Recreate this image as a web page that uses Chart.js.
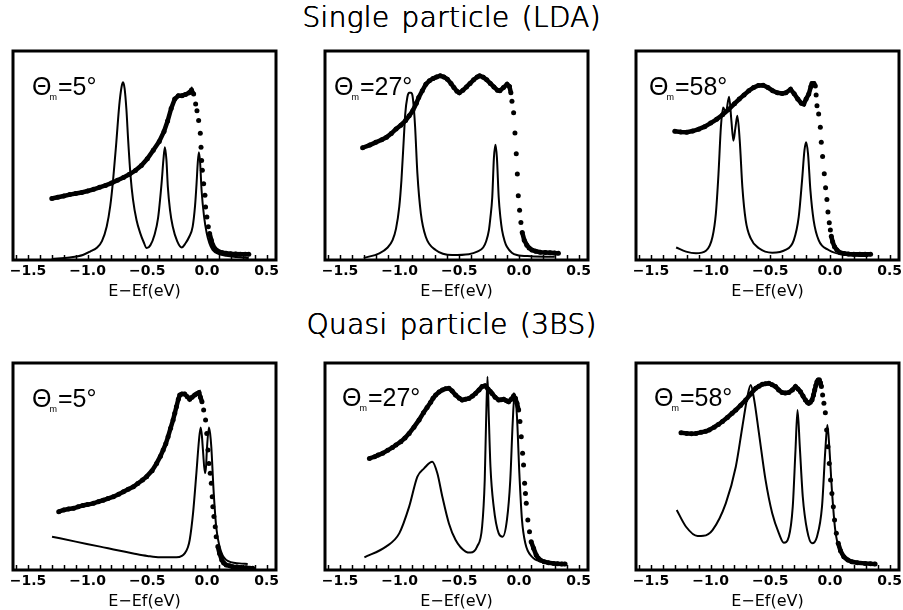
<!DOCTYPE html>
<html>
<head>
<meta charset="utf-8">
<script src="https://cdn.jsdelivr.net/npm/chart.js@4.4.1/dist/chart.umd.min.js"></script>
<style>
    body { margin: 0; background: #fff; width: 903px; height: 610px; position: relative; overflow: hidden; font-family: "Liberation Sans", Arial, sans-serif; }
    .rowtitle { position: absolute; left: 0; width: 903px; text-align: center; font-family: "DejaVu Sans", sans-serif; font-weight: 200; font-size: 28px; letter-spacing: 0.3px; word-spacing: 3px; line-height: 30px; color: #000; text-shadow: 0.5px 0 0 #000, 0 0.4px 0 #000; }
    .panel { position: absolute; }
    .lab { position: absolute; font-size: 25px; line-height: 25px; color: #000; white-space: nowrap; }
    .lab sub { font-size: 9px; vertical-align: -5px; margin-left: -2px; margin-right: 1px; }
</style>
</head>
<body>
<div id="app"></div>
<script>
// titles, angles, tick labels
const rowTitles = ['Single particle (LDA)', 'Quasi particle (3BS)'];
const angles = ['5°', '27°', '58°'];
const tickValues = [-1.5, -1.0, -0.5, 0.0, 0.5];

// measured spectra (dots) and calculated spectra (lines): [E-Ef, intensity]
const lda5Dots = [[-1.30,0.294],[-1.25,0.30],[-1.20,0.306],[-1.15,0.313],[-1.10,0.318],[-1.05,0.323],[-1.00,0.33],[-0.95,0.338],[-0.90,0.348],[-0.85,0.357],[-0.80,0.368],[-0.75,0.382],[-0.70,0.395],[-0.65,0.41],[-0.60,0.428],[-0.55,0.452],[-0.50,0.484],[-0.45,0.525],[-0.40,0.567],[-0.36,0.615],[-0.33,0.665],[-0.30,0.725],[-0.27,0.77],[-0.24,0.786],[-0.21,0.786],[-0.18,0.792],[-0.15,0.80],[-0.13,0.813],[-0.112,0.794],[-0.095,0.746],[-0.084,0.714],[-0.07,0.667],[-0.056,0.606],[-0.05,0.54],[-0.045,0.476],[-0.039,0.429],[-0.028,0.365],[-0.017,0.31],[-0.012,0.254],[-0.001,0.206],[0.011,0.159],[0.022,0.127],[0.036,0.095],[0.049,0.071],[0.065,0.055],[0.08,0.047],[0.10,0.04],[0.13,0.035],[0.16,0.032],[0.20,0.03],[0.24,0.029],[0.28,0.028],[0.32,0.027],[0.35,0.027]];
const lda5Line = [[-1.30,0.005],[-1.15,0.012],[-1.04,0.024],[-0.98,0.04],[-0.92,0.06],[-0.88,0.09],[-0.84,0.16],[-0.81,0.26],[-0.787,0.38],[-0.76,0.56],[-0.735,0.74],[-0.715,0.83],[-0.703,0.85],[-0.69,0.82],[-0.675,0.72],[-0.66,0.57],[-0.64,0.40],[-0.62,0.29],[-0.59,0.19],[-0.56,0.13],[-0.53,0.085],[-0.505,0.057],[-0.475,0.07],[-0.44,0.12],[-0.41,0.2],[-0.38,0.37],[-0.365,0.48],[-0.353,0.54],[-0.34,0.48],[-0.328,0.35],[-0.31,0.24],[-0.287,0.16],[-0.25,0.09],[-0.212,0.06],[-0.18,0.08],[-0.15,0.11],[-0.12,0.16],[-0.10,0.26],[-0.087,0.37],[-0.078,0.46],[-0.068,0.516],[-0.058,0.47],[-0.045,0.33],[-0.025,0.21],[-0.003,0.13],[0.02,0.08],[0.047,0.048],[0.10,0.028],[0.16,0.02],[0.25,0.014],[0.35,0.01]];

const lda27Dots = [[-1.31,0.537],[-1.25,0.55],[-1.20,0.563],[-1.15,0.575],[-1.11,0.587],[-1.07,0.605],[-1.03,0.627],[-0.99,0.645],[-0.95,0.667],[-0.92,0.69],[-0.89,0.714],[-0.86,0.75],[-0.84,0.778],[-0.81,0.81],[-0.78,0.841],[-0.75,0.858],[-0.72,0.868],[-0.69,0.876],[-0.66,0.881],[-0.63,0.876],[-0.60,0.865],[-0.57,0.845],[-0.545,0.825],[-0.52,0.808],[-0.50,0.80],[-0.47,0.812],[-0.44,0.828],[-0.41,0.845],[-0.38,0.862],[-0.35,0.876],[-0.33,0.881],[-0.30,0.875],[-0.27,0.862],[-0.24,0.845],[-0.21,0.828],[-0.18,0.812],[-0.16,0.81],[-0.13,0.825],[-0.10,0.841],[-0.08,0.83],[-0.068,0.80],[-0.059,0.759],[-0.045,0.705],[-0.034,0.608],[-0.023,0.508],[-0.014,0.411],[-0.006,0.308],[0.005,0.238],[0.016,0.179],[0.027,0.132],[0.044,0.095],[0.066,0.071],[0.085,0.058],[0.108,0.048],[0.14,0.042],[0.178,0.037],[0.22,0.036],[0.26,0.035],[0.30,0.033],[0.33,0.032]];
const lda27Line = [[-1.30,0.01],[-1.17,0.032],[-1.10,0.06],[-1.059,0.095],[-1.03,0.15],[-1.003,0.254],[-0.985,0.38],[-0.965,0.58],[-0.953,0.698],[-0.935,0.78],[-0.92,0.80],[-0.905,0.80],[-0.892,0.786],[-0.88,0.72],[-0.87,0.635],[-0.851,0.413],[-0.822,0.222],[-0.781,0.111],[-0.698,0.048],[-0.559,0.024],[-0.42,0.028],[-0.35,0.04],[-0.30,0.06],[-0.275,0.09],[-0.252,0.143],[-0.24,0.2],[-0.224,0.30],[-0.21,0.49],[-0.197,0.552],[-0.185,0.49],[-0.17,0.30],[-0.155,0.2],[-0.142,0.143],[-0.12,0.09],[-0.101,0.063],[-0.06,0.035],[-0.018,0.024],[0.10,0.018],[0.30,0.015]];

const lda58Dots = [[-1.30,0.616],[-1.25,0.612],[-1.20,0.611],[-1.15,0.617],[-1.10,0.626],[-1.05,0.638],[-1.00,0.655],[-0.95,0.673],[-0.90,0.695],[-0.85,0.72],[-0.80,0.748],[-0.76,0.77],[-0.72,0.79],[-0.68,0.81],[-0.64,0.825],[-0.60,0.835],[-0.56,0.836],[-0.52,0.825],[-0.48,0.81],[-0.44,0.80],[-0.40,0.797],[-0.37,0.80],[-0.33,0.817],[-0.30,0.795],[-0.27,0.77],[-0.24,0.75],[-0.22,0.746],[-0.20,0.77],[-0.178,0.794],[-0.16,0.83],[-0.151,0.844],[-0.135,0.845],[-0.123,0.833],[-0.116,0.79],[-0.109,0.738],[-0.095,0.698],[-0.081,0.635],[-0.073,0.563],[-0.062,0.495],[-0.048,0.413],[-0.037,0.346],[-0.026,0.289],[-0.017,0.23],[-0.006,0.178],[0.003,0.143],[0.011,0.114],[0.022,0.087],[0.038,0.063],[0.058,0.048],[0.086,0.035],[0.12,0.031],[0.155,0.029],[0.20,0.028],[0.25,0.027],[0.294,0.027],[0.34,0.027]];
const lda58Line = [[-1.289,0.06],[-1.206,0.04],[-1.122,0.032],[-1.039,0.044],[-0.984,0.111],[-0.956,0.222],[-0.934,0.413],[-0.914,0.635],[-0.895,0.73],[-0.873,0.706],[-0.845,0.781],[-0.826,0.667],[-0.809,0.571],[-0.792,0.635],[-0.776,0.69],[-0.756,0.571],[-0.734,0.349],[-0.706,0.19],[-0.664,0.103],[-0.595,0.056],[-0.484,0.035],[-0.373,0.048],[-0.303,0.095],[-0.262,0.206],[-0.234,0.381],[-0.214,0.524],[-0.2,0.563],[-0.184,0.508],[-0.164,0.333],[-0.137,0.19],[-0.095,0.095],[-0.012,0.048],[0.128,0.024],[0.322,0.019]];

const qp5Dots = [[-1.242,0.282],[-1.20,0.29],[-1.16,0.295],[-1.117,0.298],[-1.08,0.305],[-1.04,0.312],[-1.00,0.316],[-0.951,0.322],[-0.91,0.33],[-0.87,0.337],[-0.83,0.345],[-0.784,0.354],[-0.74,0.366],[-0.70,0.378],[-0.66,0.39],[-0.617,0.402],[-0.58,0.418],[-0.54,0.435],[-0.506,0.451],[-0.46,0.48],[-0.422,0.515],[-0.39,0.55],[-0.367,0.58],[-0.345,0.61],[-0.326,0.644],[-0.305,0.685],[-0.284,0.725],[-0.27,0.757],[-0.256,0.789],[-0.24,0.825],[-0.228,0.845],[-0.21,0.85],[-0.187,0.85],[-0.165,0.837],[-0.145,0.825],[-0.125,0.835],[-0.103,0.845],[-0.085,0.852],[-0.067,0.857],[-0.055,0.835],[-0.042,0.813],[-0.028,0.773],[-0.012,0.725],[-0.002,0.66],[0.008,0.58],[0.016,0.515],[0.027,0.467],[0.036,0.419],[0.044,0.354],[0.049,0.306],[0.058,0.258],[0.069,0.209],[0.077,0.161],[0.091,0.113],[0.105,0.08],[0.124,0.048],[0.14,0.034],[0.161,0.024],[0.19,0.02],[0.216,0.016],[0.25,0.014],[0.29,0.012],[0.328,0.011],[0.36,0.009],[0.383,0.008]];
const qp5Line = [[-1.298,0.161],[-1.10,0.137],[-0.895,0.113],[-0.75,0.095],[-0.617,0.08],[-0.50,0.068],[-0.395,0.061],[-0.256,0.061],[-0.21,0.068],[-0.187,0.08],[-0.16,0.11],[-0.145,0.145],[-0.117,0.274],[-0.089,0.467],[-0.067,0.628],[-0.053,0.689],[-0.043,0.65],[-0.034,0.58],[-0.017,0.467],[-0.008,0.50],[-0.001,0.58],[0.016,0.689],[0.026,0.66],[0.036,0.596],[0.055,0.386],[0.077,0.209],[0.105,0.113],[0.161,0.048],[0.272,0.032],[0.341,0.029]];

const qp27Dots = [[-1.253,0.539],[-1.21,0.547],[-1.18,0.555],[-1.142,0.564],[-1.10,0.578],[-1.06,0.592],[-1.031,0.604],[-0.99,0.62],[-0.955,0.638],[-0.92,0.66],[-0.88,0.69],[-0.837,0.725],[-0.80,0.76],[-0.77,0.785],[-0.74,0.81],[-0.72,0.83],[-0.698,0.845],[-0.67,0.86],[-0.642,0.87],[-0.615,0.876],[-0.587,0.878],[-0.56,0.865],[-0.531,0.845],[-0.50,0.83],[-0.476,0.821],[-0.45,0.825],[-0.42,0.829],[-0.39,0.84],[-0.364,0.853],[-0.335,0.87],[-0.309,0.886],[-0.285,0.89],[-0.26,0.875],[-0.24,0.862],[-0.226,0.853],[-0.20,0.835],[-0.17,0.821],[-0.15,0.822],[-0.128,0.825],[-0.105,0.818],[-0.087,0.813],[-0.065,0.825],[-0.045,0.841],[-0.03,0.83],[-0.017,0.805],[-0.003,0.773],[0.008,0.717],[0.019,0.644],[0.03,0.564],[0.038,0.507],[0.047,0.419],[0.054,0.37],[0.061,0.322],[0.074,0.242],[0.088,0.185],[0.102,0.137],[0.122,0.105],[0.144,0.072],[0.16,0.058],[0.178,0.048],[0.21,0.04],[0.247,0.035],[0.29,0.032],[0.325,0.03],[0.358,0.029],[0.386,0.029]];
const qp27Line = [[-1.295,0.061],[-1.114,0.113],[-1.003,0.177],[-0.92,0.306],[-0.851,0.451],[-0.795,0.491],[-0.726,0.523],[-0.684,0.467],[-0.642,0.354],[-0.587,0.225],[-0.531,0.145],[-0.447,0.089],[-0.406,0.084],[-0.351,0.113],[-0.309,0.209],[-0.287,0.435],[-0.276,0.709],[-0.264,0.934],[-0.253,0.741],[-0.239,0.499],[-0.212,0.306],[-0.17,0.177],[-0.137,0.161],[-0.101,0.242],[-0.073,0.435],[-0.053,0.709],[-0.037,0.853],[-0.017,0.741],[0.003,0.467],[0.025,0.242],[0.053,0.129],[0.108,0.064],[0.192,0.04],[0.358,0.024]];

const qp58Dots = [[-1.248,0.663],[-1.20,0.66],[-1.16,0.658],[-1.123,0.66],[-1.08,0.665],[-1.04,0.67],[-1.012,0.676],[-0.97,0.69],[-0.935,0.703],[-0.901,0.717],[-0.86,0.737],[-0.82,0.757],[-0.789,0.773],[-0.75,0.795],[-0.706,0.821],[-0.665,0.85],[-0.622,0.878],[-0.595,0.888],[-0.567,0.897],[-0.54,0.90],[-0.512,0.902],[-0.485,0.895],[-0.456,0.886],[-0.43,0.87],[-0.401,0.857],[-0.375,0.855],[-0.345,0.857],[-0.315,0.87],[-0.289,0.886],[-0.268,0.875],[-0.247,0.861],[-0.226,0.84],[-0.206,0.821],[-0.19,0.81],[-0.178,0.805],[-0.165,0.81],[-0.151,0.821],[-0.138,0.845],[-0.128,0.87],[-0.118,0.892],[-0.109,0.91],[-0.099,0.918],[-0.089,0.918],[-0.08,0.905],[-0.072,0.886],[-0.062,0.845],[-0.051,0.805],[-0.039,0.76],[-0.028,0.676],[-0.017,0.596],[-0.006,0.515],[0.005,0.435],[0.016,0.37],[0.028,0.306],[0.038,0.242],[0.053,0.177],[0.069,0.129],[0.088,0.093],[0.116,0.064],[0.15,0.048],[0.183,0.04],[0.23,0.035],[0.294,0.032],[0.34,0.03],[0.378,0.029]];
const qp58Line = [[-1.284,0.29],[-1.206,0.209],[-1.109,0.164],[-1.06,0.165],[-0.984,0.193],[-0.873,0.322],[-0.789,0.499],[-0.734,0.692],[-0.692,0.837],[-0.664,0.894],[-0.637,0.829],[-0.595,0.66],[-0.54,0.435],[-0.484,0.274],[-0.428,0.177],[-0.387,0.132],[-0.345,0.161],[-0.312,0.306],[-0.289,0.58],[-0.272,0.773],[-0.253,0.596],[-0.228,0.354],[-0.192,0.193],[-0.151,0.129],[-0.109,0.161],[-0.067,0.306],[-0.039,0.58],[-0.022,0.70],[-0.006,0.596],[0.016,0.386],[0.044,0.193],[0.086,0.089],[0.183,0.04],[0.378,0.032]];

const panels = [
    { dots: lda5Dots, line: lda5Line, angle: angles[0], row: 0, col: 0 },
    { dots: lda27Dots, line: lda27Line, angle: angles[1], row: 0, col: 1 },
    { dots: lda58Dots, line: lda58Line, angle: angles[2], row: 0, col: 2 },
    { dots: qp5Dots, line: qp5Line, angle: angles[0], row: 1, col: 0 },
    { dots: qp27Dots, line: qp27Line, angle: angles[1], row: 1, col: 1 },
    { dots: qp58Dots, line: qp58Line, angle: angles[2], row: 1, col: 2 }
];

// layout
const boxLeft = [13, 325, 636];
const boxTop = [51, 363];
const boxH = [209, 207];
const boxW = 263;
const padL = 8, padT = 6, axisH = 44;
const labelPos = [[32, 74], [334, 74], [649, 74], [32, 386], [342, 385], [654, 385]];
const titleTop = [3, 310];

const pts = arr => arr.map(([x, y]) => ({ x, y }));

// frame + inward ticks
const framePlugin = {
    id: 'frame',
    afterDatasetsDraw(chart) {
        const { ctx, chartArea: a, scales: { x } } = chart;
        ctx.save();
        ctx.strokeStyle = '#000';
        ctx.lineWidth = 1.5;
        x.ticks.forEach(t => {
            const px = Math.round(x.getPixelForValue(t.value)) + 0.5;
            ctx.beginPath();
            ctx.moveTo(px, a.bottom);
            ctx.lineTo(px, a.bottom - 5);
            ctx.stroke();
        });
        ctx.lineWidth = 3;
        ctx.strokeRect(a.left, a.top, a.width, a.height);
        ctx.restore();
    }
};

// join neighbouring dots only where the curve is not steep (pixel slope)
const joinDots = c => {
    const dx = Math.abs(c.p1.x - c.p0.x) || 0.01;
    return Math.abs(c.p1.y - c.p0.y) / dx < 4.5 ? '#000' : 'rgba(0,0,0,0)';
};

const app = document.getElementById('app');

rowTitles.forEach((text, i) => {
    const d = document.createElement('div');
    d.className = 'rowtitle';
    d.style.top = titleTop[i] + 'px';
    d.textContent = text;
    app.appendChild(d);
});

panels.forEach((p, i) => {
    const canvas = document.createElement('canvas');
    const w = boxW + 2 * padL;
    const h = padT + boxH[p.row] + axisH;
    canvas.width = w;
    canvas.height = h;
    canvas.className = 'panel';
    canvas.style.left = (boxLeft[p.col] - padL) + 'px';
    canvas.style.top = (boxTop[p.row] - padT) + 'px';
    canvas.style.width = w + 'px';
    canvas.style.height = h + 'px';
    app.appendChild(canvas);

    new Chart(canvas.getContext('2d'), {
        type: 'scatter',
        data: {
            datasets: [
                {
                    label: 'calc',
                    data: pts(p.line),
                    showLine: true,
                    borderColor: '#000',
                    borderWidth: 2,
                    pointRadius: 0,
                    cubicInterpolationMode: 'monotone'
                },
                {
                    label: 'exp',
                    data: pts(p.dots),
                    showLine: true,
                    borderColor: '#000',
                    borderWidth: 4.5,
                    backgroundColor: '#000',
                    pointRadius: 2.5,
                    pointBorderWidth: 0,
                    segment: { borderColor: joinDots }
                }
            ]
        },
        options: {
            responsive: false,
            animation: false,
            events: [],
            layout: { padding: { left: padL, right: padL, top: padT, bottom: 0 } },
            plugins: { legend: { display: false }, tooltip: { enabled: false } },
            scales: {
                x: {
                    type: 'linear',
                    min: -1.625,
                    max: 0.578,
                    grid: { display: false, drawTicks: false },
                    border: { display: false },
                    afterFit: s => { s.height = axisH; },
                    ticks: {
                        stepSize: 0.1,
                        includeBounds: false,
                        autoSkip: false,
                        maxRotation: 0,
                        padding: 3,
                        color: '#000',
                        font: { family: 'DejaVu Sans', size: 14, weight: 'bold' },
                        callback: v => {
                            const hit = tickValues.find(t => Math.abs(t - v) < 1e-6);
                            return hit === undefined ? '' : hit.toFixed(1).replace('-', '\u2212');
                        }
                    },
                    title: {
                        display: true,
                        text: 'E\u2212Ef(eV)',
                        color: '#000',
                        font: { family: 'DejaVu Sans', size: 16 },
                        padding: { top: 0, bottom: 3 }
                    }
                },
                y: { display: false, min: 0, max: 1 }
            }
        },
        plugins: [framePlugin]
    });

    const lab = document.createElement('div');
    lab.className = 'lab';
    lab.style.left = labelPos[i][0] + 'px';
    lab.style.top = labelPos[i][1] + 'px';
    lab.innerHTML = '\u0398<sub>m</sub>=' + p.angle;
    app.appendChild(lab);
});
</script>
</body>
</html>
